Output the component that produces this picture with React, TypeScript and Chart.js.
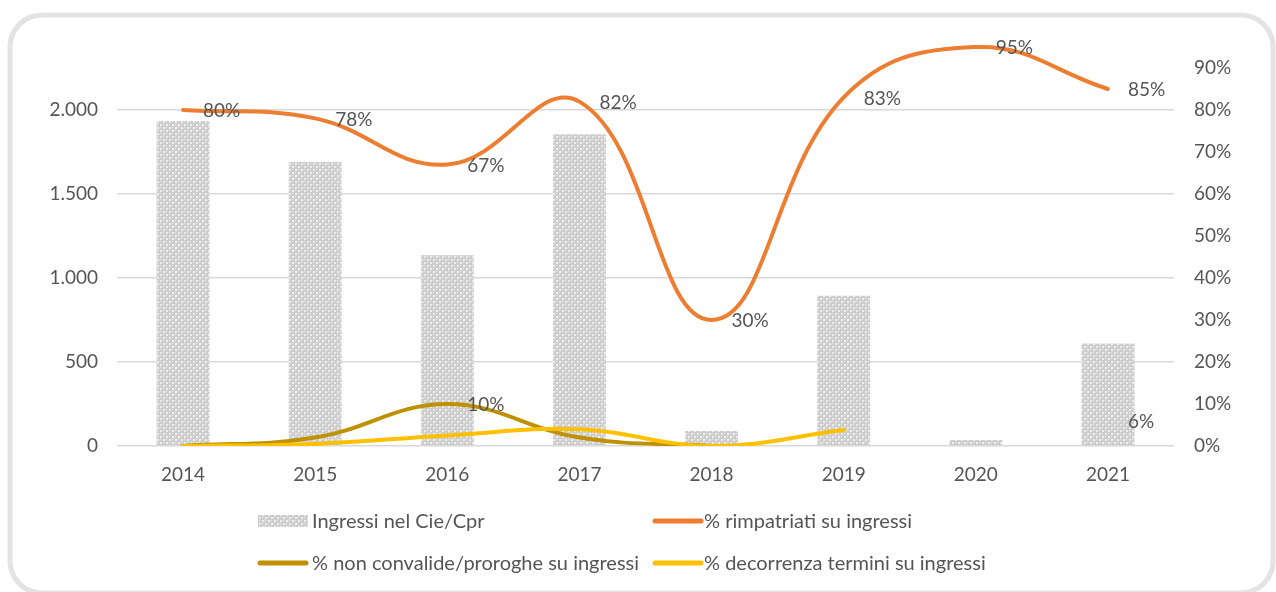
import React, { useEffect, useRef } from 'react';
import { Chart, registerables } from 'chart.js';

Chart.register(...registerables);

const years = ['2014', '2015', '2016', '2017', '2018', '2019', '2020', '2021'];
const ingressi = [1935, 1690, 1135, 1855, 90, 895, 35, 610];
const rimpatriati = [80, 78, 67, 82, 30, 83, 95, 85];
const nonConvalide = [0, 2, 10, 2, 0, null, null, null];
const decorrenza = [0, 0.5, 2.5, 4, 0, 3.8, null, null];
const nonConvalideLabelIdx = [2];
const extraLabels = [{ year: '2021', value: 6 }];
const leftMax = 2500;
const leftStep = 500;
const rightMax = 100;
const rightStep = 10;

const seriesNames = [
  'Ingressi nel Cie/Cpr',
  '% rimpatriati su ingressi',
  '% non convalide/proroghe su ingressi',
  '% decorrenza termini su ingressi',
];

const TEXT = '#555555';
const GRID = '#d9d9d9';
const ORANGE = '#ed7d31';
const GOLD = '#bf9000';
const YELLOW = '#ffc000';
const FONT = 'Lato';

function fmtThousands(v: number): string {
  if (v >= 1000) {
    return Math.floor(v / 1000) + '.' + String(v % 1000).padStart(3, '0');
  }
  return String(v);
}

function makePattern(): CanvasPattern | string {
  const c = document.createElement('canvas');
  c.width = 6;
  c.height = 6;
  const p = c.getContext('2d');
  if (!p) return '#d9d9d9';
  p.fillStyle = '#cdcdcd';
  p.fillRect(0, 0, 6, 6);
  p.fillStyle = '#ececec';
  p.fillRect(1, 1, 2, 2);
  p.fillRect(4, 4, 2, 2);
  p.fillRect(4, 1, 1, 1);
  p.fillRect(1, 4, 1, 1);
  const pat = p.createPattern(c, 'repeat');
  return pat || '#d9d9d9';
}

export default function App() {
  const ref = useRef<HTMLCanvasElement | null>(null);

  useEffect(() => {
    const canvas = ref.current;
    if (!canvas) return;
    const pattern = makePattern();

    const framePlugin = {
      id: 'frame',
      beforeDraw(chart: any) {
        const ctx = chart.ctx;
        ctx.save();
        ctx.fillStyle = '#ffffff';
        ctx.fillRect(0, 0, chart.width, chart.height);
        const x = 10, y = 15, w = 1263, h = 578, r = 32;
        ctx.beginPath();
        ctx.moveTo(x + r, y);
        ctx.lineTo(x + w - r, y);
        ctx.arcTo(x + w, y, x + w, y + r, r);
        ctx.lineTo(x + w, y + h - r);
        ctx.arcTo(x + w, y + h, x + w - r, y + h, r);
        ctx.lineTo(x + r, y + h);
        ctx.arcTo(x, y + h, x, y + h - r, r);
        ctx.lineTo(x, y + r);
        ctx.arcTo(x, y, x + r, y, r);
        ctx.closePath();
        ctx.strokeStyle = '#e3e3e3';
        ctx.lineWidth = 5;
        ctx.stroke();
        ctx.restore();
      },
    };

    const labelsPlugin = {
      id: 'valueLabels',
      afterDatasetsDraw(chart: any) {
        const ctx = chart.ctx;
        const xs = chart.scales.x;
        const y1 = chart.scales.y1;
        ctx.save();
        ctx.font = `19px ${FONT}`;
        ctx.fillStyle = TEXT;
        ctx.textAlign = 'left';
        ctx.textBaseline = 'middle';
        rimpatriati.forEach((v, i) => {
          const px = xs.getPixelForValue(i);
          const py = y1.getPixelForValue(v);
          ctx.fillText(v + '%', px + 20, py + 1);
        });
        nonConvalideLabelIdx.forEach((i) => {
          const v = nonConvalide[i] as number;
          ctx.fillText(v + '%', xs.getPixelForValue(i) + 20, y1.getPixelForValue(v) + 1);
        });
        extraLabels.forEach((l) => {
          const i = years.indexOf(l.year);
          ctx.fillText(l.value + '%', xs.getPixelForValue(i) + 20, y1.getPixelForValue(l.value) + 1);
        });
        ctx.restore();
      },
    };

    const legendPlugin = {
      id: 'customLegend',
      afterDraw(chart: any) {
        const ctx = chart.ctx;
        const items = [
          { text: seriesNames[0], kind: 'bar', color: '', sx: 258, tx: 312, y: 521 },
          { text: seriesNames[1], kind: 'line', color: ORANGE, sx: 653, tx: 704, y: 521 },
          { text: seriesNames[2], kind: 'line', color: GOLD, sx: 258, tx: 312, y: 563 },
          { text: seriesNames[3], kind: 'line', color: YELLOW, sx: 653, tx: 704, y: 563 },
        ];
        ctx.save();
        items.forEach((it) => {
          if (it.kind === 'bar') {
            ctx.fillStyle = pattern as any;
            ctx.fillRect(it.sx, it.y - 6, 50, 12);
          } else {
            ctx.strokeStyle = it.color;
            ctx.lineWidth = 5;
            ctx.lineCap = 'round';
            ctx.beginPath();
            ctx.moveTo(it.sx + 2, it.y);
            ctx.lineTo(it.sx + 48, it.y);
            ctx.stroke();
          }
          ctx.font = `20px ${FONT}`;
          ctx.fillStyle = TEXT;
          ctx.textAlign = 'left';
          ctx.textBaseline = 'middle';
          ctx.fillText(it.text, it.tx, it.y + 1);
        });
        ctx.restore();
      },
    };

    const fitY = (w: number) => (s: any) => {
      s.width = w;
      s.paddingTop = 0;
      s.paddingBottom = 0;
    };

    const chart = new Chart(canvas, {
      type: 'bar',
      data: {
        labels: years,
        datasets: [
          {
            type: 'bar',
            label: seriesNames[0],
            data: ingressi,
            backgroundColor: pattern as any,
            borderWidth: 0,
            barPercentage: 0.4,
            categoryPercentage: 1,
            yAxisID: 'y',
            order: 4,
          },
          {
            type: 'line',
            label: seriesNames[1],
            data: rimpatriati,
            borderColor: ORANGE,
            borderWidth: 4,
            borderCapStyle: 'round',
            pointRadius: 0,
            tension: 0.42,
            yAxisID: 'y1',
            order: 3,
          },
          {
            type: 'line',
            label: seriesNames[2],
            data: nonConvalide,
            borderColor: GOLD,
            borderWidth: 4,
            borderCapStyle: 'round',
            pointRadius: 0,
            tension: 0.4,
            yAxisID: 'y1',
            order: 2,
          },
          {
            type: 'line',
            label: seriesNames[3],
            data: decorrenza,
            borderColor: YELLOW,
            borderWidth: 4,
            borderCapStyle: 'round',
            pointRadius: 0,
            tension: 0.4,
            yAxisID: 'y1',
            order: 1,
          },
        ] as any,
      },
      options: {
        responsive: false,
        animation: false,
        devicePixelRatio: 1,
        layout: { padding: { left: 0, right: 0, top: 26, bottom: 96 } },
        plugins: {
          legend: { display: false },
          tooltip: { enabled: false },
        },
        scales: {
          x: {
            grid: { display: false },
            border: { display: false },
            ticks: { color: TEXT, font: { family: FONT, size: 19 }, padding: 9 },
            afterFit: (s: any) => { s.height = 50; s.paddingLeft = 0; s.paddingRight = 0; },
          },
          y: {
            position: 'left',
            min: 0,
            max: leftMax,
            ticks: {
              stepSize: leftStep,
              color: TEXT,
              font: { family: FONT, size: 19 },
              padding: 19,
              callback: (v: any) => (v === leftMax ? '' : fmtThousands(v)),
            },
            grid: {
              drawTicks: false,
              lineWidth: 1.5,
              color: (c: any) => (c.tick && c.tick.value === leftMax ? 'rgba(0,0,0,0)' : GRID),
            },
            border: { display: false },
            afterFit: fitY(117),
          },
          y1: {
            position: 'right',
            min: 0,
            max: rightMax,
            ticks: {
              stepSize: rightStep,
              color: TEXT,
              font: { family: FONT, size: 19 },
              padding: 20,
              callback: (v: any) => (v === rightMax ? '' : v + '%'),
            },
            grid: { display: false, drawTicks: false },
            border: { display: false },
            afterFit: fitY(102),
          },
        },
      } as any,
      plugins: [framePlugin, labelsPlugin, legendPlugin],
    });

    return () => chart.destroy();
  }, []);

  return (
    <div style={{ position: 'fixed', left: 0, top: 0, width: 1276, height: 592, background: '#fff' }}>
      <canvas ref={ref} width={1276} height={592} style={{ display: 'block', width: 1276, height: 592 }} />
    </div>
  );
}
